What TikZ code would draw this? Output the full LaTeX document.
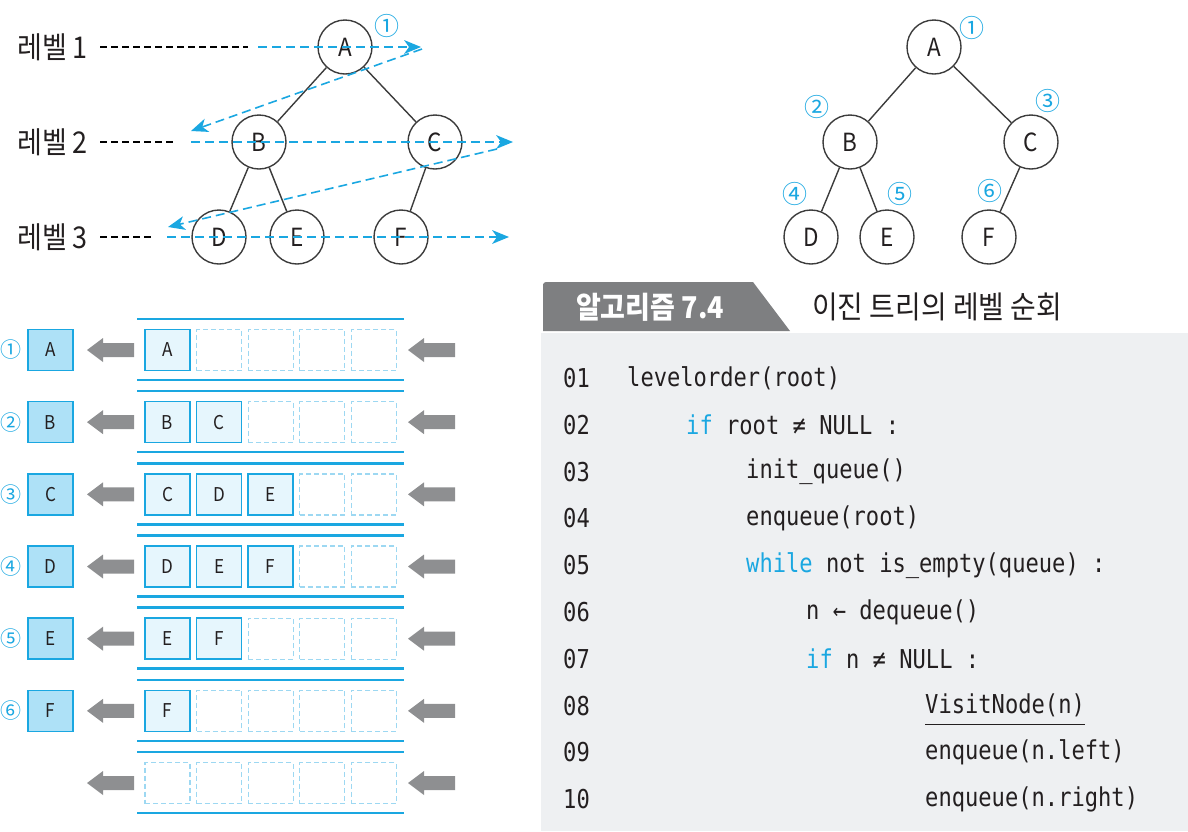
\documentclass[tikz,border=0pt]{standalone}
\usepackage{fontspec}
\setmainfont{Noto Sans CJK KR}[FakeStretch=0.9]
\newfontfamily\numfont{Noto Sans CJK KR}
\newfontfamily\codefont{DejaVu Sans Mono}[FakeStretch=0.85]
\usetikzlibrary{positioning,arrows.meta,calc}

\definecolor{qblue}{RGB}{26,167,225}
\definecolor{outfill}{RGB}{174,225,247}
\definecolor{cellfill}{RGB}{230,246,253}
\definecolor{dashblue}{RGB}{157,216,242}
\definecolor{qgray}{RGB}{142,143,145}
\definecolor{tabgray}{RGB}{126,127,129}
\definecolor{codebg}{RGB}{238,240,242}
\definecolor{textdark}{RGB}{35,31,32}
\definecolor{treegray}{RGB}{60,60,60}

\newcommand{\qarrow}[2]{\fill[qgray] (#1,#2) -- ++(16,-12) -- ++(0,5) -- ++(31,0) -- ++(0,14) -- ++(-31,0) -- ++(0,5) -- cycle;}

\tikzset {
    tree node/.style={
        circle,
        draw=treegray,
        line width=1.4pt,
        minimum size=54pt,
        inner sep=0pt,
        text=textdark,
        font=\fontsize{25}{25}\selectfont,
    },
    tree edge/.style={draw=treegray, line width=1.4pt},
    level label/.style={
        anchor=west,
        inner sep=0pt,
        text=textdark,
        font=\fontsize{30}{30}\selectfont,
    },
    level line/.style={draw=black, line width=1.1pt, dash pattern=on 7pt off 4pt},
    scan line/.style={draw=qblue, line width=1.6pt, dash pattern=on 9pt off 5pt, shorten >=8pt},
    order num/.style={text=qblue, inner sep=0pt, font=\numfont\fontsize{25}{25}\selectfont},
    out box/.style={
        draw=qblue,
        fill=outfill,
        line width=1.6pt,
        rectangle, % Set the shape as a rectangle
        minimum width=45pt,
        minimum height=41pt,
        text=textdark,
        font=\fontsize{19}{19}\selectfont,
    },
    full cell/.style={
        out box,
        fill=cellfill,
    },
    empty cell/.style={
        draw=dashblue,
        line width=1.3pt,
        dash pattern=on 5pt off 3pt,
        rectangle, % Set the shape as a rectangle
        minimum width=45pt,
        minimum height=41pt,
    },
    queue line/.style={draw=qblue, line width=2.5pt},
    code line/.style={
        anchor=west,
        inner sep=0pt,
        text=textdark,
        font=\codefont\fontsize{26}{26}\selectfont,
    },
}

\begin{document}
\begin{tikzpicture}[x=1pt,y=-1pt]
    \useasboundingbox (0,0) rectangle (1188,831);

    % level order on the left tree
    \node[tree node] (la) at (345,47) {A};
    \node[tree node] (lb) at (259,142) {B};
    \node[tree node] (lc) at (435,142) {C};
    \node[tree node] (ld) at (219,237) {D};
    \node[tree node] (le) at (297,237) {E};
    \node[tree node] (lf) at (401,237) {F};
    \draw[tree edge] (la) -- (lb) (la) -- (lc) (lb) -- (ld) (lb) -- (le) (lc) -- (lf);

    \node[level label] (lv1) at (17,47) {레벨 1};
    \node[level label] (lv2) at (17,142) {레벨 2};
    \node[level label] (lv3) at (17,237) {레벨 3};
    \coordinate (e1) at (248,47);
    \coordinate (e2) at (175,142);
    \coordinate (e3) at (151,237);
    \draw[level line] ([xshift=12pt]lv1.east) -- (e1);
    \draw[level line] ([xshift=12pt]lv2.east) -- (e2);
    \draw[level line] ([xshift=12pt]lv3.east) -- (e3);

    \coordinate (s1a) at (258,47);
    \coordinate (s1b) at (421,47);
    \coordinate (s2a) at (422,49);
    \coordinate (s2b) at (191,131);
    \coordinate (s3a) at (191,142);
    \coordinate (s3b) at (513,142);
    \coordinate (s4a) at (497,149);
    \coordinate (s4b) at (168,227);
    \coordinate (s5a) at (167,237);
    \coordinate (s5b) at (509,237);
    \foreach \s in {1,...,5} {
        \draw[scan line] (s\s a) -- (s\s b);
        % filled tip
        \coordinate (tb) at ($(s\s b)!17pt!(s\s a)$);
        \fill[qblue] (s\s b) -- ($(tb)!7pt!90:(s\s b)$) -- ($(s\s b)!12pt!(s\s a)$)
            -- ($(tb)!7pt!-90:(s\s b)$) -- cycle;
    }
    \node[order num] (lo1) at (387,26) {①};

    % visiting order on the right tree
    \node[tree node] (ra) at (934,47) {A};
    \node[tree node] (rb) at (850,142) {B};
    \node[tree node] (rc) at (1031,142) {C};
    \node[tree node] (rd) at (811,237) {D};
    \node[tree node] (re) at (887,237) {E};
    \node[tree node] (rf) at (989,237) {F};
    \draw[tree edge] (ra) -- (rb) (ra) -- (rc) (rb) -- (rd) (rb) -- (re) (rc) -- (rf);
    \node[order num] (ro1) at (972,28) {①};
    \node[order num] (ro2) at (817,107) {②};
    \node[order num] (ro3) at (1048,101) {③};
    \node[order num] (ro4) at (795,194) {④};
    \node[order num] (ro5) at (900,194) {⑤};
    \node[order num] (ro6) at (990,191) {⑥};

    % queue states
    \foreach \r in {1,...,7} {
        \pgfmathsetmacro\y{350+72.17*(\r-1)}
        \draw[queue line] (137,\y-31) -- (404,\y-31);
        \draw[queue line] (137,\y+30) -- (404,\y+30);
        \foreach \c in {0,...,4}
            \node[empty cell] (q\r-\c) at (167.5+51.6*\c,\y) {};
        \qarrow{87}{\y}
        \qarrow{408}{\y}
    }
    \foreach \r/\o/\n/\q in {1/A/①/{A},2/B/②/{B,C},3/C/③/{C,D,E},4/D/④/{D,E,F},5/E/⑤/{E,F},6/F/⑥/{F}} {
        \pgfmathsetmacro\y{350+72.17*(\r-1)}
        \node[order num, font=\numfont\fontsize{21}{21}\selectfont] (qn\r) at (11,\y) {\n};
        \node[out box] (out\r) at (50.5,\y) {\o};
        \foreach \t [count=\k from 0] in \q
            \node[full cell] (f\r-\k) at (167.5+51.6*\k,\y) {\t};
    }

    % algorithm box
    \fill[codebg] (541,333) rectangle (1188,831);
    \fill[tabgray] (543,331) -- (543,284) [rounded corners=3pt] -- (543,282) [sharp corners] -- (753,282) -- (790,331) -- cycle;
    \node[text=white, inner sep=0pt, font=\fontsize{30}{30}\selectfont\bfseries] (tab) at (650,307) {알고리즘 7.4};
    \node[level label, font=\fontsize{31}{31}\selectfont] (title) at (812,307) {이진 트리의 레벨 순회};

    \foreach \n/\x/\t [count=\i] in {
        01/627/{levelorder(root)},
        02/686/{\textcolor{qblue}{if} root ≠ NULL :},
        03/746/{init\_queue()},
        04/746/{enqueue(root)},
        05/746/{\textcolor{qblue}{while} not is\_empty(queue) :},
        06/806/{n ← dequeue()},
        07/806/{\textcolor{qblue}{if} n ≠ NULL :},
        08/925/{VisitNode(n)},
        09/925/{enqueue(n.left)},
        10/925/{enqueue(n.right)}} {
        \node[code line] (ln\i) at (563,378+46.8*\i-46.8) {\n};
        \node[code line] (code\i) at (\x,378+46.8*\i-46.8) {\t};
    }
    \draw[textdark, line width=1pt] ([yshift=-7pt]code8.south west) -- ([yshift=-7pt]code8.south east);
\end{tikzpicture}
\end{document}
